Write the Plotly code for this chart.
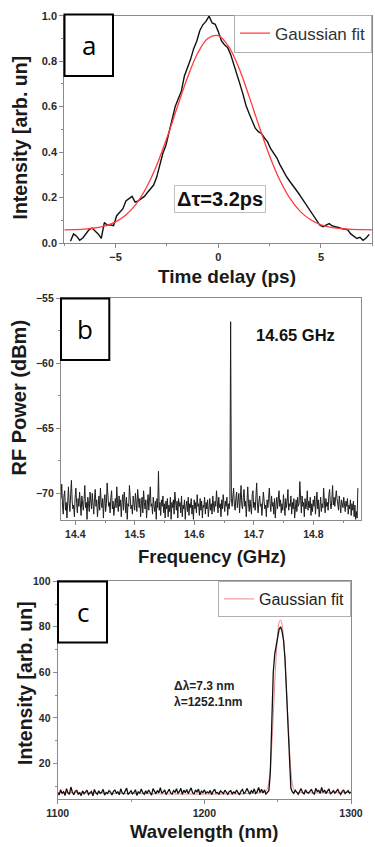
import numpy as np
import plotly.graph_objects as go

W, H = 375, 847

# ---------------- Panel a: autocorrelation ----------------
a_x_start, a_x_stop = -7.2, 7.35
a_intensity = [
    0.008, 0.040, 0.030, 0.012, 0.022, 0.040, 0.058, 0.066, 0.055, 0.040,
    0.020, 0.090, 0.078, 0.080, 0.076, 0.120, 0.135, 0.150, 0.185, 0.195,
    0.205, 0.180, 0.185, 0.195, 0.205, 0.222, 0.238, 0.255, 0.290, 0.340,
    0.395, 0.430, 0.490, 0.540, 0.600, 0.635, 0.668, 0.735, 0.770, 0.808,
    0.855, 0.888, 0.935, 0.960, 0.975, 0.998, 0.968, 0.962, 0.930, 0.890,
    0.872, 0.860, 0.830, 0.790, 0.745, 0.700, 0.655, 0.605, 0.570, 0.535,
    0.505, 0.490, 0.482, 0.462, 0.445, 0.415, 0.395, 0.375, 0.345, 0.318,
    0.295, 0.275, 0.258, 0.240, 0.220, 0.200, 0.180, 0.160, 0.140, 0.122,
    0.098, 0.078, 0.072, 0.078, 0.085, 0.075, 0.070, 0.068, 0.064, 0.060,
    0.058, 0.040, 0.028, 0.020, 0.025, 0.012, 0.022, 0.038,
]
a_fit_x = [-7.5, -7, -6.5, -6, -5.5, -5, -4.5, -4, -3.5, -3, -2.5, -2, -1.5, -1, -0.5,
           0, 0.5, 1, 1.5, 2, 2.5, 3, 3.5, 4, 4.5, 5, 5.5, 6, 6.5, 7, 7.5]
a_fit_y = [0.058, 0.059, 0.061, 0.066, 0.075, 0.093, 0.123, 0.172, 0.244, 0.342, 0.463,
           0.597, 0.728, 0.836, 0.901, 0.912, 0.865, 0.771, 0.645, 0.510, 0.383, 0.276,
           0.195, 0.138, 0.102, 0.080, 0.069, 0.063, 0.060, 0.059, 0.058]

# ---------------- Panel b: RF spectrum ----------------
b_f_start, b_f_step = 14.376, 0.00125
b_power = [
    -70.4, -69.3, -70.9, -71.6, -70.2, -69.8, -71.3, -70.7, -71.9, -70.5, -69.5, -70.8, -71.4, -70.1, -69.0, -70.6, -71.2, -70.9, -71.8, -70.3,
    -69.6, -70.8, -71.5, -70.4, -71.0, -69.9, -70.6, -71.7, -70.2, -70.9, -71.3, -70.5, -69.4, -71.1, -70.7, -72.0, -70.3, -70.8, -71.4, -69.9,
    -70.6, -71.2, -70.0, -70.9, -71.6, -70.4, -69.7, -71.0, -70.5, -71.8, -70.8, -70.2, -71.3, -69.6, -70.7, -71.1, -70.4, -71.9, -70.6, -70.1,
    -71.4, -70.8, -69.2, -70.5, -71.0, -70.7, -71.5, -70.3, -69.8, -71.2, -70.6, -71.7, -70.9, -70.4, -71.1, -69.5, -70.8, -71.4, -70.2, -71.0,
    -70.5, -71.8, -70.7, -70.1, -71.3, -69.9, -70.6, -71.5, -70.3, -72.0, -70.8, -71.0, -69.4, -70.5, -71.2, -70.9, -71.6, -70.2, -70.7, -71.3,
    -70.0, -70.9, -71.4, -69.7, -70.6, -71.1, -70.4, -71.8, -70.8, -70.3, -71.5, -69.8, -70.7, -71.2, -70.5, -71.9, -70.9, -70.1, -71.3, -70.6,
    -69.5, -71.0, -70.8, -71.6, -70.3, -70.9, -71.4, -70.6, -72.0, -70.4, -71.1, -68.3, -71.3, -70.7, -71.7, -70.5, -71.0, -70.2, -71.5, -70.8,
    -71.9, -70.6, -71.2, -70.4, -71.8, -70.9, -71.4, -70.3, -72.0, -70.7, -71.1, -70.5, -71.6, -69.9, -70.8, -71.3, -70.6, -71.9, -70.4, -71.0,
    -70.7, -71.5, -70.2, -71.8, -70.9, -71.2, -70.5, -72.0, -71.0, -70.6, -71.4, -70.3, -71.7, -70.8, -71.1, -70.4, -71.6, -70.9, -72.0, -70.5,
    -71.2, -70.7, -71.5, -70.1, -71.0, -70.8, -71.7, -70.4, -71.3, -70.6, -71.9, -70.9, -71.1, -70.3, -71.6, -70.7, -71.2, -70.5, -71.8, -70.9,
    -70.4, -71.3, -70.8, -71.6, -70.2, -70.9, -71.4, -70.6, -71.0, -69.8, -70.7, -71.5, -70.3, -71.1, -70.8, -71.8, -70.5, -71.2, -70.1, -70.9,
    -71.4, -70.6, -71.0, -70.3, -71.7, -70.8, -71.2, -70.5, -56.8, -70.4, -71.0, -70.2, -69.6, -70.9, -71.3, -70.4, -69.9, -71.1, -70.6, -70.0,
    -71.5, -70.7, -69.4, -70.9, -71.2, -70.3, -69.7, -71.0, -70.6, -71.8, -70.2, -69.5, -70.8, -71.4, -70.5, -70.9, -71.6, -70.1, -69.8, -71.1,
    -70.7, -71.3, -70.4, -69.2, -70.9, -71.5, -70.6, -70.2, -71.0, -70.8, -71.7, -70.3, -69.9, -70.6, -71.2, -70.9, -71.8, -70.5, -71.1, -70.4,
    -69.6, -70.8, -71.4, -70.2, -71.0, -70.7, -71.6, -70.4, -71.9, -70.9, -70.3, -71.2, -70.6, -69.8, -71.0, -70.5, -71.5, -70.8, -71.3, -70.1,
    -70.9, -71.7, -70.4, -71.1, -70.6, -69.7, -71.3, -70.8, -71.0, -70.2, -71.6, -70.7, -71.2, -70.4, -71.9, -70.9, -70.5, -71.4, -70.3, -71.0,
    -70.8, -69.1, -70.6, -71.5, -70.2, -71.0, -70.7, -71.8, -70.4, -71.2, -70.9, -69.8, -71.3, -70.6, -71.1, -70.3, -71.7, -70.8, -71.4, -70.5,
    -71.0, -70.2, -71.6, -70.7, -69.9, -71.2, -70.5, -71.8, -70.9, -70.3, -71.4, -70.8, -71.1, -69.6, -70.6, -71.5, -70.4, -71.0, -70.7, -71.3,
    -70.1, -69.7, -70.8, -71.2, -70.5, -69.4, -70.9, -70.3, -71.0, -70.6, -69.8, -70.4, -70.9, -71.3, -70.2, -70.7, -71.5, -70.5, -70.9, -71.1,
    -70.3, -70.8, -71.4, -70.6, -71.0, -70.4, -71.6, -70.9, -71.2, -70.5, -71.7, -70.8, -71.3, -70.6, -71.8, -70.9, -72.0, -71.4, -71.9, -69.6,
]

# ---------------- Panel c: optical spectrum ----------------
c_wl_start, c_wl_stop = 1100, 1300
c_intensity = [
    7.2, 6.1, 8.4, 6.8, 7.5, 5.9, 8.9, 7.0, 6.4, 9.6, 7.3, 6.2, 7.8, 8.1, 6.5, 7.1, 5.8, 7.9, 6.6, 7.4,
    8.2, 6.3, 7.0, 7.6, 5.7, 8.5, 7.1, 6.4, 7.9, 6.8, 7.3, 8.6, 6.0, 7.2, 6.7, 8.0, 7.4, 6.1, 7.7, 8.3,
    6.9, 7.5, 6.2, 8.8, 7.0, 6.5, 7.8, 9.1, 6.3, 7.4, 8.0, 6.6, 7.2, 8.4, 5.9, 7.6, 6.8, 8.7, 7.1, 6.4,
    7.9, 6.7, 8.3, 7.2, 6.0, 8.9, 7.4, 6.6, 8.1, 7.0, 9.3, 6.8, 7.5, 8.2, 6.3, 7.7, 8.6, 7.0, 6.5, 8.0,
    7.3, 8.8, 6.9, 7.6, 9.0, 6.4, 8.2, 7.1, 8.5, 6.7, 7.9, 9.2, 7.0, 6.6, 8.3, 7.4, 8.7, 6.2, 7.8, 7.1,
    8.4, 6.8, 7.5, 7.0, 8.1, 6.3, 7.7, 8.6, 6.9, 7.2, 6.5, 7.9, 7.3, 6.7, 8.2, 7.0, 6.4, 7.6, 8.0, 6.6,
    7.4, 6.9, 8.3, 7.1, 6.2, 7.8, 8.5, 6.7, 7.3, 9.0, 7.6, 6.4, 8.1, 7.0, 8.8, 6.8, 7.5, 9.4, 7.2, 8.6,
    7.0, 8.3, 6.5, 7.4, 8.0, 16.0, 40.0, 60.0, 68.0, 72.0, 76.0, 79.0, 80.0, 78.0, 74.0, 66.0, 52.0, 36.0, 20.0, 9.0,
    7.5, 6.8, 8.2, 7.0, 6.4, 7.7, 8.9, 7.1, 6.6, 8.4, 7.3, 6.9, 7.8, 8.6, 7.0, 6.5, 9.0, 7.6, 8.1, 6.8,
    9.4, 7.2, 8.3, 6.7, 7.9, 8.8, 6.5, 7.4, 8.0, 6.9, 7.6, 8.5, 7.1, 6.3, 7.8, 8.2, 6.7, 7.5, 8.0, 6.9,
    7.4,
]
c_fit_x = [1100, 1240, 1242, 1243, 1244, 1245, 1246, 1247, 1248, 1249, 1250, 1251, 1252, 1253,
           1254, 1255, 1256, 1257, 1258, 1259, 1260, 1261, 1262, 1264, 1300]
c_fit_y = [7.2, 7.2, 7.8, 9.0, 12.0, 18.0, 28.0, 41.0, 55.0, 67.0, 77.0, 82.0, 83.0, 81.0,
           75.0, 65.0, 52.0, 39.0, 27.0, 17.0, 11.0, 8.5, 7.6, 7.2, 7.2]

# ---------------- helpers ----------------
def px_x(v):
    return v / W

def px_y(v):
    return 1 - v / H

FONT = "Liberation Sans, Arial, sans-serif"
AXC = "#8a8a8a"

fig = go.Figure()

a_x = np.linspace(a_x_start, a_x_stop, len(a_intensity))
b_f = b_f_start + b_f_step * np.arange(len(b_power))
c_wl = np.linspace(c_wl_start, c_wl_stop, len(c_intensity))

fig.add_trace(go.Scatter(x=a_x, y=a_intensity, mode="lines", line=dict(color="#111", width=1.4),
                         showlegend=False, xaxis="x", yaxis="y"))
fig.add_trace(go.Scatter(x=a_fit_x, y=a_fit_y, mode="lines", line=dict(color="#ff3b3b", width=1.3, shape="spline"),
                         name="Gaussian fit", legend="legend", xaxis="x", yaxis="y"))

fig.add_trace(go.Scatter(x=b_f, y=b_power, mode="lines", line=dict(color="#1e1e1e", width=1.0),
                         showlegend=False, xaxis="x2", yaxis="y2"))

fig.add_trace(go.Scatter(x=c_fit_x, y=c_fit_y, mode="lines", line=dict(color="#f08a8a", width=1.0, shape="spline"),
                         name="Gaussian fit", legend="legend2", xaxis="x3", yaxis="y3"))
fig.add_trace(go.Scatter(x=c_wl, y=c_intensity, mode="lines", line=dict(color="#111", width=1.3),
                         showlegend=False, xaxis="x3", yaxis="y3"))

def axis(domain, rng, dtick, minor_dtick, anchor, tickfs, tickvals=None, ticktext=None):
    d = dict(domain=domain, range=rng, anchor=anchor, showgrid=False, zeroline=False,
             showline=True, linecolor=AXC, linewidth=1.2, mirror=True,
             ticks="outside", ticklen=4, tickcolor=AXC, tickwidth=1,
             minor=dict(ticks="outside", ticklen=2, tickcolor=AXC, dtick=minor_dtick),
             dtick=dtick, tickfont=dict(family=FONT, size=tickfs, color="#2a2a2a", weight="bold"),
             automargin=False, fixedrange=True)
    if tickvals is not None:
        d.update(tickmode="array", tickvals=tickvals, ticktext=ticktext)
    return d

fig.update_layout(
    width=W, height=H, autosize=False,
    margin=dict(l=0, r=0, t=0, b=0),
    paper_bgcolor="white", plot_bgcolor="white",
    xaxis=axis([px_x(64.3), px_x(372.3)], [-7.5, 7.5], 5, 2.5, "y", 11),
    yaxis=axis([px_y(243), px_y(15.7)], [0, 1.0], 0.2, 0.1, "x", 11,
               tickvals=[0, 0.2, 0.4, 0.6, 0.8, 1.0], ticktext=["0.0", "0.2", "0.4", "0.6", "0.8", "1.0"]),
    xaxis2=axis([px_x(61), px_x(361)], [14.376, 14.88], 0.1, 0.05, "y2", 10.5),
    yaxis2=axis([px_y(520), px_y(298.3)], [-72.05, -55], 5, 2.5, "x2", 10.5),
    xaxis3=axis([px_x(57.7), px_x(351)], [1100, 1300], 100, 50, "y3", 10.5),
    yaxis3=axis([px_y(799.3), px_y(581.3)], [4.2, 100], 20, 10, "x3", 10.5),
    legend=dict(x=px_x(372), y=px_y(14.5), xanchor="right", yanchor="top",
                bgcolor="white", bordercolor="#b0b0b0", borderwidth=1,
                font=dict(family=FONT, size=17, color="#333"), itemwidth=30,
                tracegroupgap=0),
    legend2=dict(x=px_x(351), y=px_y(581), xanchor="right", yanchor="top",
                 bgcolor="white", bordercolor="#b0b0b0", borderwidth=1,
                 font=dict(family=FONT, size=16, color="#222"), itemwidth=30),
)

shapes = []
annos = []

def label_box(x0, y0, x1, y1, letter, fs):
    shapes.append(dict(type="rect", xref="paper", yref="paper",
                       x0=px_x(x0), x1=px_x(x1), y0=px_y(y1), y1=px_y(y0),
                       line=dict(color="black", width=2), fillcolor="white", layer="above"))
    annos.append(dict(xref="paper", yref="paper", x=px_x((x0 + x1) / 2), y=px_y((y0 + y1) / 2),
                      text=letter, showarrow=False, xanchor="center", yanchor="middle",
                      font=dict(family="Open Sans, Noto Sans, sans-serif", size=fs, color="black")))

label_box(64.5, 14.5, 113, 76, "a", 26)
label_box(61, 298.5, 109.3, 360, "b", 26)
label_box(58, 581.5, 107, 642.5, "c", 26)

def title(x, y, text, fs, angle=0):
    annos.append(dict(xref="paper", yref="paper", x=px_x(x), y=px_y(y), text=text, showarrow=False,
                      xanchor="center", yanchor="middle", textangle=angle,
                      font=dict(family=FONT, size=fs, color="#1a1a1a", weight="bold")))

title(227, 277, "Time delay (ps)", 19)
title(19.5, 138, "Intensity [arb. un]", 19.5, -90)
title(211.7, 556.5, "Frequency (GHz)", 18.5)
title(18.5, 398, "RF Power (dBm)", 20, -90)
title(204, 831.5, "Wavelength (nm)", 18.5)
title(25, 683, "Intensity [arb. un]", 19.5, -90)

annos.append(dict(xref="paper", yref="paper", x=px_x(220), y=px_y(199), text="Δτ=3.2ps", showarrow=False,
                  xanchor="center", yanchor="middle", bordercolor="#c0c0c0", borderwidth=1, borderpad=2,
                  bgcolor="white",
                  font=dict(family=FONT, size=20, color="#111", weight="bold")))
annos.append(dict(xref="paper", yref="paper", x=px_x(295.5), y=px_y(335), text="14.65 GHz", showarrow=False,
                  xanchor="center", yanchor="middle",
                  font=dict(family=FONT, size=16.5, color="#111", weight="bold")))
annos.append(dict(xref="paper", yref="paper", x=px_x(172), y=px_y(694), text="Δλ=7.3 nm<br>λ=1252.1nm",
                  showarrow=False, xanchor="left", yanchor="middle", align="left",
                  font=dict(family=FONT, size=12, color="#222", weight="bold")))

fig.update_layout(shapes=shapes, annotations=annos)

fig.write_html("out.html", config={"displayModeBar": False},
               post_script="document.body.style.margin='0';document.body.style.overflow='hidden';")
